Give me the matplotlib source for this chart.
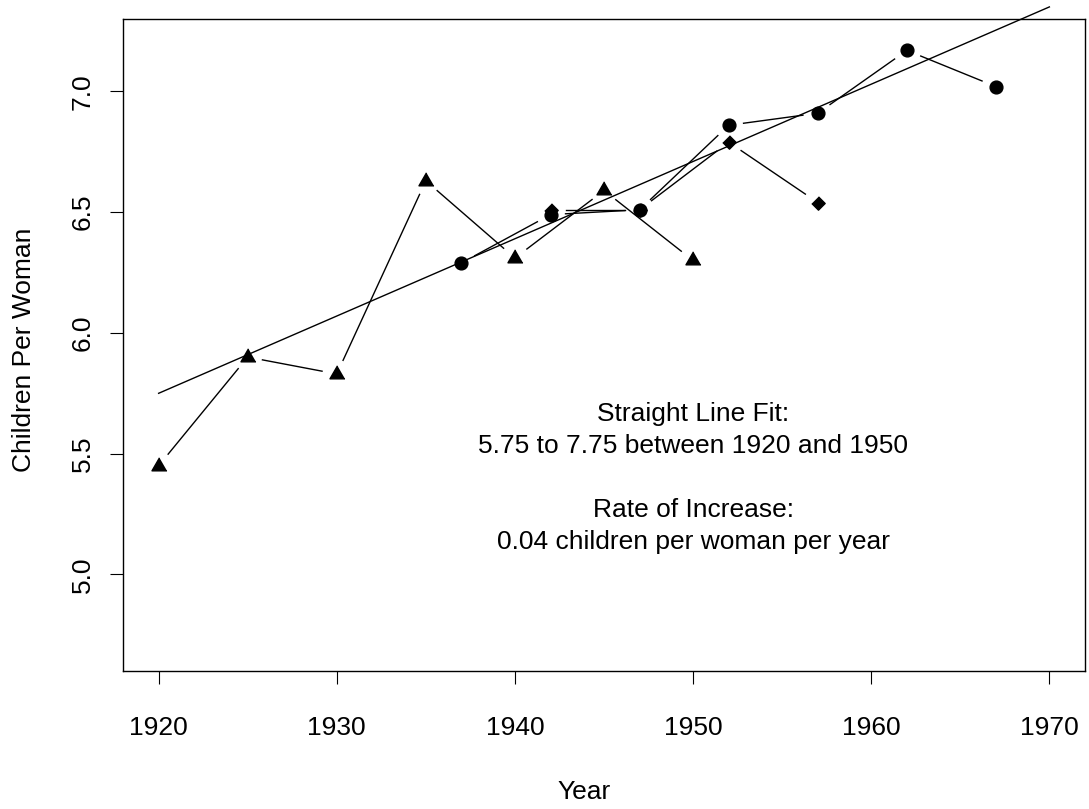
import numpy as np
import matplotlib
matplotlib.use("Agg")
import matplotlib.pyplot as plt

plt.rcParams["font.family"] = ["Liberation Sans", "DejaVu Sans"]

# children per woman, three overlapping survey series
tri_year = [1920, 1925, 1930, 1935, 1940, 1945, 1950]
tri_kids = [5.45, 5.90, 5.83, 6.63, 6.31, 6.59, 6.30]
dot_year = [1937, 1942, 1947, 1952, 1957, 1962, 1967]
dot_kids = [6.29, 6.49, 6.51, 6.86, 6.91, 7.17, 7.02]
dia_year = [1942, 1947, 1952, 1957]
dia_kids = [6.51, 6.51, 6.79, 6.54]

# straight line fit
fit_year = [1920, 1970]
fit_kids = [5.75, 7.35]

x_ticks = [1920, 1930, 1940, 1950, 1960, 1970]
y_ticks = [5.0, 5.5, 6.0, 6.5, 7.0]

FS = 19
TRI = [(0, 1), (-0.866, -0.5), (0.866, -0.5)]
DIA = [(0, 1), (1, 0), (0, -1), (-1, 0)]


def gapped(ax, xs, ys, gap=15):
    # R type="b": segments stop short of each point
    tr = ax.transData
    pts = tr.transform(np.column_stack([xs, ys]))
    back = tr.inverted()
    for p, q in zip(pts[:-1], pts[1:]):
        d = q - p
        n = np.hypot(*d)
        if n <= 2 * gap:
            continue
        u = d / n
        a, b = back.transform([p + u * gap, q - u * gap])
        ax.plot([a[0], b[0]], [a[1], b[1]], color="black", lw=1.0)


fig = plt.figure(figsize=(10.89, 8.09), dpi=100)
ax = fig.add_axes([123 / 1089, 138 / 809, 962 / 1089, 652 / 809])
ax.set_xlim(1918, 1972)
ax.set_ylim(4.6, 7.3)

gapped(ax, tri_year, tri_kids)
gapped(ax, dot_year, dot_kids)
gapped(ax, dia_year, dia_kids)

ax.plot(tri_year, tri_kids, ls="none", marker=TRI, ms=12.5, color="black")
ax.plot(dot_year, dot_kids, ls="none", marker="o", ms=9.2, color="black")
ax.plot(dia_year, dia_kids, ls="none", marker=DIA, ms=9.6, color="black")

ax.plot(fit_year, fit_kids, color="black", lw=1.0, clip_on=False)

ax.text(1950, 5.6, "Straight Line Fit:\n5.75 to 7.75 between 1920 and 1950",
        ha="center", va="center", fontsize=FS, linespacing=1.42)
ax.text(1950, 5.2, "Rate of Increase:\n0.04 children per woman per year",
        ha="center", va="center", fontsize=FS, linespacing=1.42)

ax.set_xticks(x_ticks)
ax.set_xticklabels([str(t) for t in x_ticks])
ax.set_yticks(y_ticks)
ax.set_yticklabels([f"{t:.1f}" for t in y_ticks], rotation=90, va="center")
ax.tick_params(axis="both", length=9.4, width=0.8, labelsize=FS, direction="out")
ax.tick_params(axis="x", pad=23)
ax.tick_params(axis="y", pad=11)
for s in ax.spines.values():
    s.set_linewidth(1.0)

fig.text(584 / 1089, 1 - 792 / 809, "Year", ha="center", va="center", fontsize=FS)
fig.text(24 / 1089, 1 - 350 / 809, "Children Per Woman", ha="center", va="center",
         rotation=90, fontsize=FS)

fig.savefig("out.png", dpi=100)
